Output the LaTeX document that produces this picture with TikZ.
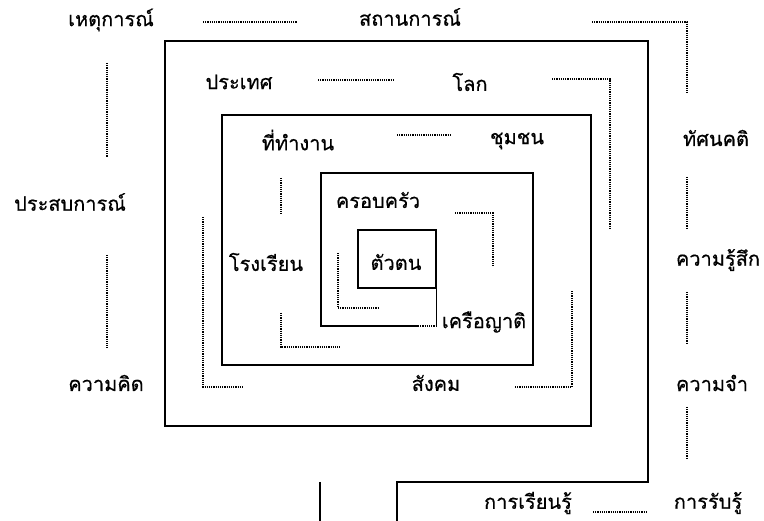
\documentclass[tikz,border=0pt]{standalone}
\usepackage{fontspec}
\newfontfamily\thaifont[Script=Thai,FakeBold=0.5]{Loma}
\usetikzlibrary{positioning}

\begin{document}
\begin{tikzpicture}[x=1pt,y=-1pt,semithick]
 \tikzset{
 	word node/.style={inner sep=0,font={\thaifont\fontsize{20}{24}\selectfont}},
 	wall line/.style={line width=1.3pt,line join=miter},
 	thin wall/.style={line width=0.9pt},
 	dot line/.style={line width=1.1pt,dash pattern=on 1.2pt off 1pt}
 }
 \useasboundingbox (0,0) rectangle (764,521);

       % outer ring of words
       \node[word node] (event) at (111,20) {เหตุการณ์};
       \node[word node] (situ) at (410,17) {สถานการณ์};
       \node[word node] (attit) at (716,138) {ทัศนคติ};
       \node[word node] (exper) at (70,202) {ประสบการณ์};
       \node[word node] (feel) at (718,260) {ความรู้สึก};
       \node[word node] (think) at (106,383) {ความคิด};
       \node[word node] (memo) at (712,383) {ความจำ};
       \node[word node] (learn) at (528,503) {การเรียนรู้};
       \node[word node] (perc) at (708,503) {การรับรู้};

       % inside the spiral
       \node[word node] (nation) at (239,82) {ประเทศ};
       \node[word node] (world) at (470,82) {โลก};
       \node[word node] (work) at (298,140) {ที่ทำงาน};
       \node[word node] (commu) at (517,141) {ชุมชน};
       \node[word node] (school) at (266,262) {โรงเรียน};
       \node[word node] (society) at (436,383) {สังคม};
       \node[word node] (family) at (378,200) {ครอบครัว};
       \node[word node] (self) at (396,262) {ตัวตน};
       \node[word node] (kin) at (484,322) {เครือญาติ};

       % ends of the dotted links
       \coordinate (e1) at (203,22);   \coordinate (e2) at (297,22);
       \coordinate (s1) at (592,22);   \coordinate (s2) at (687,94);
       \coordinate (x1) at (107,63);   \coordinate (x2) at (107,157);
       \coordinate (x3) at (107,255);  \coordinate (x4) at (107,348);
       \coordinate (a1) at (687,177);  \coordinate (a2) at (687,228);
       \coordinate (a3) at (687,292);  \coordinate (a4) at (687,343);
       \coordinate (a5) at (687,407);  \coordinate (a6) at (687,458);
       \coordinate (p1) at (593,512);  \coordinate (p2) at (648,512);
       \coordinate (n1) at (318,80);   \coordinate (n2) at (393,80);
       \coordinate (w1) at (552,79);   \coordinate (w2) at (610,228);
       \coordinate (m1) at (203,217);  \coordinate (m2) at (243,387);
       \coordinate (c1) at (515,387);  \coordinate (c2) at (572,290);
       \coordinate (k1) at (397,135);  \coordinate (k2) at (450,135);
       \coordinate (r1) at (281,178);  \coordinate (r2) at (281,215);
       \coordinate (r3) at (281,313);  \coordinate (r4) at (340,347);
       \coordinate (f1) at (455,213);  \coordinate (f2) at (493,267);
       \coordinate (t1) at (338,253);  \coordinate (t2) at (378,308);
       \coordinate (q1) at (418,326);  \coordinate (q2) at (436,326);

     % the spiral
     \draw[wall line] (358,230) rectangle (436,288);
     \draw[thin wall] (436,288) -- (q2);
     \draw[wall line] (q1) -- (321,326) -- (321,173) -- (533,173) -- (533,365)
        -- (222,365) -- (222,115) -- (591,115) -- (591,426) -- (165,426)
        -- (165,41) -- (648,41) -- (648,482) -- (397,482) -- (397,521);
     \draw[wall line] (320,482) -- (320,521);

     % dotted links
     \path[dot line,draw] (e1) -- (e2);
     \path[dot line,draw] (s1) -| (s2);
     \path[dot line,draw] (x1) -- (x2);
     \path[dot line,draw] (x3) -- (x4);
     \path[dot line,draw] (a1) -- (a2);
     \path[dot line,draw] (a3) -- (a4);
     \path[dot line,draw] (a5) -- (a6);
     \path[dot line,draw] (p1) -- (p2);
     \path[dot line,draw] (n1) -- (n2);
     \path[dot line,draw] (w1) -| (w2);
     \path[dot line,draw] (m1) |- (m2);
     \path[dot line,draw] (c1) -| (c2);
     \path[dot line,draw] (k1) -- (k2);
     \path[dot line,draw] (r1) -- (r2);
     \path[dot line,draw] (r3) |- (r4);
     \path[dot line,draw] (f1) -| (f2);
     \path[dot line,draw] (t1) |- (t2);
     \path[dot line,draw] (q1) -- (q2);
\end{tikzpicture}
\end{document}
